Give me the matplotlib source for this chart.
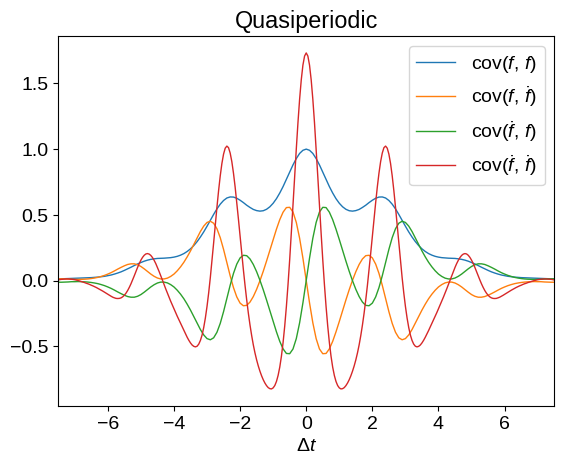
"""
Quasiperiodic kernel - covariance curves
Plots cov(f, f) and its derivative cross-covariances against the lag.
Values were read off the reference figure for lags >= 0; the negative
lags are the mirror image. cov(f', f') is sharper, so it has a finer grid.
"""

import numpy as np
import matplotlib
matplotlib.use("Agg")
import matplotlib.pyplot as plt

# lag values for the right half of the plot (step 0.1)
DT_HALF = [
    0.0, 0.1, 0.2, 0.3, 0.4, 0.5, 0.6, 0.7, 0.8, 0.9,
    1.0, 1.1, 1.2, 1.3, 1.4, 1.5, 1.6, 1.7, 1.8, 1.9,
    2.0, 2.1, 2.2, 2.3, 2.4, 2.5, 2.6, 2.7, 2.8, 2.9,
    3.0, 3.1, 3.2, 3.3, 3.4, 3.5, 3.6, 3.7, 3.8, 3.9,
    4.0, 4.1, 4.2, 4.3, 4.4, 4.5, 4.6, 4.7, 4.8, 4.9,
    5.0, 5.1, 5.2, 5.3, 5.4, 5.5, 5.6, 5.7, 5.8, 5.9,
    6.0, 6.1, 6.2, 6.3, 6.4, 6.5, 6.6, 6.7, 6.8, 6.9,
    7.0, 7.1, 7.2, 7.3, 7.4, 7.5,
]

# finer lag grid for cov(f', f') (step 0.05)
DT_FINE = [
    0.00, 0.05, 0.10, 0.15, 0.20, 0.25, 0.30, 0.35, 0.40, 0.45,
    0.50, 0.55, 0.60, 0.65, 0.70, 0.75, 0.80, 0.85, 0.90, 0.95,
    1.00, 1.05, 1.10, 1.15, 1.20, 1.25, 1.30, 1.35, 1.40, 1.45,
    1.50, 1.55, 1.60, 1.65, 1.70, 1.75, 1.80, 1.85, 1.90, 1.95,
    2.00, 2.05, 2.10, 2.15, 2.20, 2.25, 2.30, 2.35, 2.40, 2.45,
    2.50, 2.55, 2.60, 2.65, 2.70, 2.75, 2.80, 2.85, 2.90, 2.95,
    3.00, 3.05, 3.10, 3.15, 3.20, 3.25, 3.30, 3.35, 3.40, 3.45,
    3.50, 3.55, 3.60, 3.65, 3.70, 3.75, 3.80, 3.85, 3.90, 3.95,
    4.00, 4.05, 4.10, 4.15, 4.20, 4.25, 4.30, 4.35, 4.40, 4.45,
    4.50, 4.55, 4.60, 4.65, 4.70, 4.75, 4.80, 4.85, 4.90, 4.95,
    5.00, 5.05, 5.10, 5.15, 5.20, 5.25, 5.30, 5.35, 5.40, 5.45,
    5.50, 5.55, 5.60, 5.65, 5.70, 5.75, 5.80, 5.85, 5.90, 5.95,
    6.00, 6.05, 6.10, 6.15, 6.20, 6.25, 6.30, 6.35, 6.40, 6.45,
    6.50, 6.55, 6.60, 6.65, 6.70, 6.75, 6.80, 6.85, 6.90, 6.95,
    7.00, 7.05, 7.10, 7.15, 7.20, 7.25, 7.30, 7.35, 7.40, 7.45,
    7.50,
]

# cov(f, f)  - even in the lag
COV_F_F = [
    1.000, 0.991, 0.967, 0.928, 0.880, 0.825, 0.769, 0.715, 0.666, 0.623,
    0.588, 0.561, 0.542, 0.531, 0.528, 0.532, 0.541, 0.556, 0.573, 0.593,
    0.611, 0.626, 0.635, 0.636, 0.628, 0.609, 0.581, 0.545, 0.503, 0.458,
    0.413, 0.370, 0.331, 0.296, 0.266, 0.241, 0.221, 0.205, 0.193, 0.184,
    0.178, 0.174, 0.172, 0.170, 0.169, 0.168, 0.165, 0.161, 0.155, 0.147,
    0.137, 0.126, 0.114, 0.101, 0.089, 0.077, 0.066, 0.057, 0.049, 0.042,
    0.037, 0.032, 0.029, 0.026, 0.024, 0.022, 0.021, 0.020, 0.019, 0.018,
    0.017, 0.016, 0.015, 0.014, 0.013, 0.012,
]

# cov(f, f')  - odd in the lag
COV_F_DF = [
    -0.000, -0.170, -0.322, -0.442, -0.521, -0.557, -0.555, -0.520, -0.463, -0.391,
    -0.312, -0.229, -0.148, -0.070, 0.002, 0.067, 0.122, 0.164, 0.189, 0.192,
    0.172, 0.125, 0.054, -0.036, -0.137, -0.237, -0.326, -0.394, -0.436, -0.451,
    -0.442, -0.414, -0.373, -0.324, -0.274, -0.225, -0.180, -0.139, -0.104, -0.074,
    -0.049, -0.031, -0.018, -0.012, -0.012, -0.019, -0.032, -0.049, -0.069, -0.089,
    -0.107, -0.120, -0.127, -0.127, -0.122, -0.112, -0.100, -0.087, -0.073, -0.060,
    -0.049, -0.039, -0.031, -0.024, -0.019, -0.015, -0.012, -0.010, -0.009, -0.008,
    -0.009, -0.009, -0.011, -0.012, -0.013, -0.013,
]

# cov(f', f)  - odd in the lag
COV_DF_F = [
    0.000, 0.170, 0.322, 0.442, 0.521, 0.557, 0.555, 0.520, 0.463, 0.391,
    0.312, 0.229, 0.148, 0.070, -0.002, -0.067, -0.122, -0.164, -0.189, -0.192,
    -0.172, -0.125, -0.054, 0.036, 0.137, 0.237, 0.326, 0.394, 0.436, 0.451,
    0.442, 0.414, 0.373, 0.324, 0.274, 0.225, 0.180, 0.139, 0.104, 0.074,
    0.049, 0.031, 0.018, 0.012, 0.012, 0.019, 0.032, 0.049, 0.069, 0.089,
    0.107, 0.120, 0.127, 0.127, 0.122, 0.112, 0.100, 0.087, 0.073, 0.060,
    0.049, 0.039, 0.031, 0.024, 0.019, 0.015, 0.012, 0.010, 0.009, 0.008,
    0.009, 0.009, 0.011, 0.012, 0.013, 0.013,
]

# cov(f', f')  - even in the lag, on DT_FINE
COV_DF_DF = [
    1.732, 1.708, 1.639, 1.527, 1.379, 1.201, 1.002, 0.791, 0.575, 0.362,
    0.159, -0.029, -0.198, -0.346, -0.472, -0.576, -0.659, -0.722, -0.768, -0.799,
    -0.817, -0.825, -0.823, -0.815, -0.800, -0.780, -0.755, -0.725, -0.690, -0.650,
    -0.604, -0.551, -0.490, -0.419, -0.339, -0.249, -0.148, -0.038, 0.081, 0.207,
    0.337, 0.467, 0.593, 0.712, 0.817, 0.905, 0.970, 1.011, 1.023, 1.007,
    0.962, 0.891, 0.797, 0.684, 0.558, 0.423, 0.286, 0.151, 0.023, -0.094,
    -0.197, -0.285, -0.358, -0.415, -0.456, -0.484, -0.500, -0.505, -0.501, -0.491,
    -0.475, -0.455, -0.432, -0.407, -0.381, -0.354, -0.327, -0.299, -0.272, -0.244,
    -0.215, -0.186, -0.157, -0.126, -0.095, -0.063, -0.030, 0.004, 0.037, 0.069,
    0.100, 0.129, 0.154, 0.175, 0.191, 0.201, 0.205, 0.202, 0.192, 0.176,
    0.155, 0.129, 0.100, 0.068, 0.036, 0.005, -0.025, -0.052, -0.076, -0.096,
    -0.112, -0.124, -0.132, -0.136, -0.137, -0.136, -0.132, -0.127, -0.120, -0.113,
    -0.105, -0.097, -0.089, -0.081, -0.074, -0.067, -0.060, -0.053, -0.047, -0.041,
    -0.036, -0.030, -0.025, -0.021, -0.016, -0.012, -0.008, -0.004, -0.000, 0.003,
    0.006, 0.008, 0.010, 0.011, 0.012, 0.012, 0.011, 0.010, 0.009, 0.007,
    0.004,
]

LABELS = [
    r"cov($f$, $f$)",
    r"cov($f$, $\dot{f}$)",
    r"cov($\dot{f}$, $f$)",
    r"cov($\dot{f}$, $\dot{f}$)",
]


def mirror(half, odd=False):
    """Extend a right-half series to negative lags."""
    half = np.asarray(half)
    left = half[:0:-1]
    return np.concatenate([-left if odd else left, half])


def plot_covariances():
    plt.rcParams["font.family"] = "Liberation Sans"
    plt.rcParams["font.size"] = 14
    plt.rcParams["mathtext.fontset"] = "custom"
    plt.rcParams["mathtext.rm"] = "Liberation Sans"
    plt.rcParams["mathtext.it"] = "Liberation Sans:italic"

    dt = mirror(DT_HALF, odd=True)
    dt_fine = mirror(DT_FINE, odd=True)
    series = [
        (dt, mirror(COV_F_F)),
        (dt, mirror(COV_F_DF, odd=True)),
        (dt, mirror(COV_DF_F, odd=True)),
        (dt_fine, mirror(COV_DF_DF)),
    ]

    fig, ax = plt.subplots(figsize=(6.4, 4.8), dpi=100)
    for (x, values), label in zip(series, LABELS):
        ax.plot(x, values, lw=1, label=label)

    ax.set_xlim(-7.5, 7.5)
    ax.set_xlabel(r"$\Delta t$")
    ax.set_title("Quasiperiodic")
    ax.legend(loc="upper right")

    fig.savefig("out.png", dpi=100, bbox_inches="tight")
    plt.close(fig)
    print("Saved out.png")


if __name__ == "__main__":
    plot_covariances()
